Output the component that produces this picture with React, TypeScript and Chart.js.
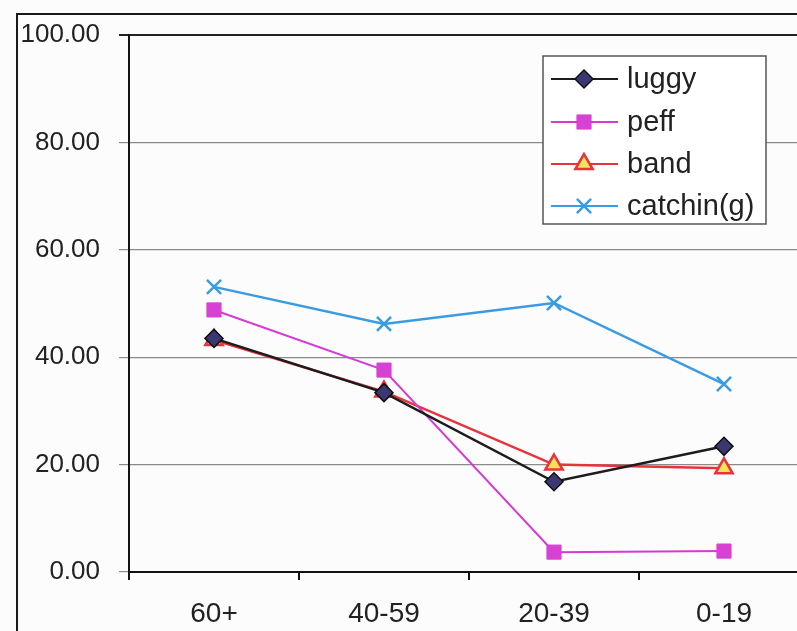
import React, { useEffect, useRef } from "react";
import { Chart, registerables } from "chart.js";
import { drawPoint } from "chart.js/helpers";

Chart.register(...registerables);

const categories = ["60+", "40-59", "20-39", "0-19"];
const luggy = [43.5, 33.4, 16.8, 23.4];
const peff = [48.8, 37.6, 3.7, 3.9];
const band = [43.2, 33.6, 20.0, 19.3];
const catching = [53.1, 46.2, 50.1, 35.0];
const seriesNames = ["luggy", "peff", "band", "catchin(g)"];

const FONT = "'Liberation Sans', Arial, sans-serif";

const frameAndLegend = {
  id: "frameAndLegend",
  beforeDraw(chart: any) {
    const ctx = chart.ctx;
    ctx.save();
    ctx.fillStyle = "#fcfcfc";
    ctx.fillRect(0, 0, chart.width, chart.height);
    ctx.strokeStyle = "#1a1a1a";
    ctx.lineWidth = 2;
    ctx.strokeRect(17, 14, chart.width + 20, chart.height + 20);
    ctx.restore();
  },
  afterDraw(chart: any) {
    const ctx = chart.ctx;
    ctx.save();
    const bx = 543, by = 56, bw = 223, bh = 168;
    ctx.fillStyle = "#ffffff";
    ctx.fillRect(bx, by, bw, bh);
    ctx.strokeStyle = "#555";
    ctx.lineWidth = 1.5;
    ctx.strokeRect(bx, by, bw, bh);
    const ys = [79, 122, 164, 206];
    chart.data.datasets.forEach((ds: any, i: number) => {
      const y = ys[i];
      ctx.strokeStyle = ds.borderColor;
      ctx.lineWidth = 2;
      ctx.beginPath();
      ctx.moveTo(551, y);
      ctx.lineTo(618, y);
      ctx.stroke();
      ctx.fillStyle = ds.pointBackgroundColor;
      ctx.strokeStyle = ds.pointBorderColor;
      ctx.lineWidth = ds.pointBorderWidth;
      drawPoint(ctx, { pointStyle: ds.pointStyle, radius: ds.pointRadius, rotation: 0, borderWidth: ds.pointBorderWidth }, 584, y);
      ctx.fillStyle = "#222";
      ctx.font = `29px ${FONT}`;
      ctx.textBaseline = "middle";
      ctx.textAlign = "left";
      ctx.fillText(seriesNames[i], 627, y + 1);
    });
    ctx.restore();
  },
};

export default function App() {
  const ref = useRef<HTMLCanvasElement>(null);
  useEffect(() => {
    if (!ref.current) return;
    const chart = new Chart(ref.current, {
      type: "line",
      data: {
        labels: categories,
        datasets: [
          {
            label: seriesNames[0],
            data: luggy,
            borderColor: "#1c1c1c",
            borderWidth: 2.5,
            pointStyle: "rectRot",
            pointRadius: 9,
            pointBackgroundColor: "#3b3772",
            pointBorderColor: "#111",
            pointBorderWidth: 1.5,
          },
          {
            label: seriesNames[1],
            data: peff,
            borderColor: "#d63ad6",
            borderWidth: 2,
            pointStyle: "rect",
            pointRadius: 10,
            pointBackgroundColor: "#d842d4",
            pointBorderColor: "#d842d4",
            pointBorderWidth: 1,
          },
          {
            label: seriesNames[2],
            data: band,
            borderColor: "#e8333d",
            borderWidth: 2.5,
            pointStyle: "triangle",
            pointRadius: 10,
            pointBackgroundColor: "#f4e25a",
            pointBorderColor: "#e8333d",
            pointBorderWidth: 2.5,
          },
          {
            label: seriesNames[3],
            data: catching,
            borderColor: "#3b9be2",
            borderWidth: 2.5,
            pointStyle: "crossRot",
            pointRadius: 10,
            pointBackgroundColor: "#3b9be2",
            pointBorderColor: "#3b9be2",
            pointBorderWidth: 2.5,
          },
        ],
      },
      options: {
        animation: false,
        responsive: false,
        devicePixelRatio: 1,
        layout: { padding: { left: 0, right: 31, top: 35, bottom: 0 } },
        plugins: { legend: { display: false }, tooltip: { enabled: false } },
        elements: { line: { tension: 0 } },
        scales: {
          x: {
            offset: true,
            grid: {
              offset: true,
              drawOnChartArea: false,
              drawTicks: true,
              tickLength: 8,
              color: "#111",
              lineWidth: 2,
            },
            border: { color: "#111", width: 2 },
            ticks: {
              color: "#222",
              font: { family: FONT, size: 28 },
              padding: 17,
            },
            afterFit(scale: any) {
              scale.height = 59;
            },
          },
          y: {
            min: 0,
            max: 100,
            ticks: {
              stepSize: 20,
              color: "#222",
              font: { family: FONT, size: 26 },
              padding: 19,
              callback: (v: any) => Number(v).toFixed(2),
            },
            grid: {
              color: (c: any) => (c.tick && c.tick.value === 100 ? "#222" : "#8a8a8a"),
              lineWidth: (c: any) => (c.tick && c.tick.value === 100 ? 2 : 1.2),
              tickLength: 10,
            },
            border: { color: "#111", width: 2 },
            afterFit(scale: any) {
              scale.width = 129;
            },
          },
        },
      },
      plugins: [frameAndLegend],
    });
    return () => chart.destroy();
  }, []);
  return (
    <div style={{ position: "absolute", left: 0, top: 0, width: 797, height: 631, overflow: "hidden", background: "#fcfcfc" }}>
      <canvas ref={ref} width={840} height={631} style={{ display: "block", width: 840, height: 631 }} />
    </div>
  );
}
